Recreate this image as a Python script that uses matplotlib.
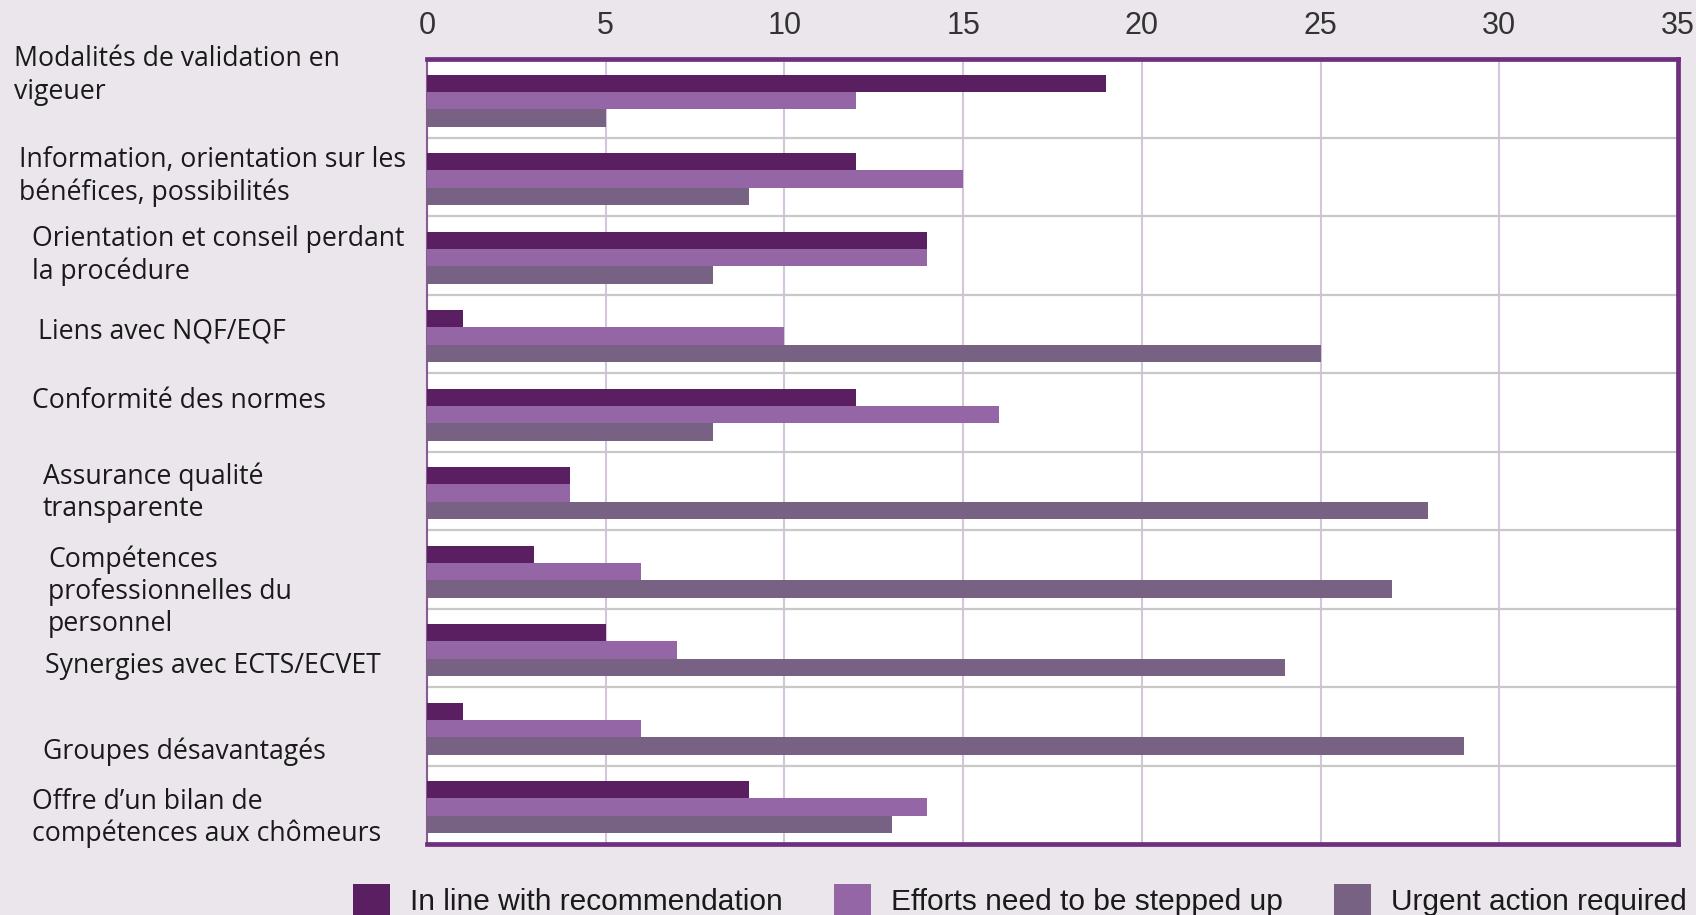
import matplotlib
matplotlib.use('Agg')

import numpy as np
import matplotlib.pyplot as plt
import matplotlib.transforms as mtransforms

# =========================
# Data
# =========================
categories = [
    "Modalités de validation en\nvigeuer",
    "Information, orientation sur les\nbénéfices, possibilités",
    "Orientation et conseil perdant\nla procédure",
    "Liens avec NQF/EQF",
    "Conformité des normes",
    "Assurance qualité\ntransparente",
    "Compétences\nprofessionnelles du\npersonnel",
    "Synergies avec ECTS/ECVET",
    "Groupes désavantagés",
    "Offre d\u2019un bilan de\ncompétences aux chômeurs",
]
in_line = [19, 12, 14, 1, 12, 4, 3, 5, 1, 9]
efforts = [12, 15, 14, 10, 16, 4, 6, 7, 6, 14]
urgent = [5, 9, 8, 25, 8, 28, 27, 24, 29, 13]
series_names = ["In line with recommendation", "Efforts need to be stepped up",
                "Urgent action required"]
x_ticks = [0, 5, 10, 15, 20, 25, 30, 35]

# label layout (pixel indent from left, vertical nudge in category units)
label_x_px = [14, 19, 32, 38, 32, 43, 48, 45, 43, 32]
label_dy = [-0.29, 0.0, 0.0, -0.03, -0.14, 0.03, 0.29, 0.23, 0.32, 0.17]

colors = ["#5a1f60", "#9566a5", "#776283"]
bg = "#ebe6ec"
border = "#6e2f7e"

# =========================
# Figure
# =========================
W, H = 1696, 915
fig = plt.figure(figsize=(W / 100, H / 100), dpi=100, facecolor=bg)
ax = fig.add_axes([427 / W, 1 - 844 / H, (1678 - 427) / W, (844 - 59) / H])
ax.set_facecolor("white")

y = np.arange(len(categories))
h = 0.22
shift = 0.03
for i, (vals, c) in enumerate(zip([in_line, efforts, urgent], colors)):
    ax.barh(y + shift + (i - 1) * h, vals, height=h, color=c,
            label=series_names[i], zorder=3)

ax.set_xlim(0, 35)
ax.set_ylim(len(categories) - 0.5, -0.5)
ax.set_xticks(x_ticks)
ax.xaxis.tick_top()
ax.tick_params(axis="x", length=0, pad=13, labelsize=22, labelcolor="#333333")
for t in ax.get_xticklabels():
    t.set_family("Liberation Sans")
ax.set_yticks([])

# grid: vertical light purple, horizontal grey at category boundaries
for xv in x_ticks[1:-1]:
    ax.axvline(xv, color="#d6c4dc", lw=1.5, zorder=1)
for k in range(1, len(categories)):
    ax.axhline(k - 0.5, color="#c8c8c8", lw=1.6, zorder=1)

for side in ["top", "right", "bottom"]:
    ax.spines[side].set_color(border)
    ax.spines[side].set_linewidth(3.4)
ax.spines["left"].set_color("#8a5a95")
ax.spines["left"].set_linewidth(1.5)

# category labels
trans = mtransforms.blended_transform_factory(fig.transFigure, ax.transData)
for k, lab in enumerate(categories):
    ax.text(label_x_px[k] / W, k + label_dy[k], lab, transform=trans,
            ha="left", va="center", fontsize=19.2, family="Open Sans",
            color="#1a1a1a", linespacing=1.2)

leg = fig.legend(loc="center", bbox_to_anchor=(1020 / W, 1 - 900 / H), ncol=3,
                 frameon=False, handlelength=1.22, handleheight=1.22,
                 handletextpad=0.68, columnspacing=1.72,
                 prop={"family": ["Liberation Sans Narrow", "Liberation Sans"],
                       "size": 21.5})
for t in leg.get_texts():
    t.set_color("#1a1a1a")

fig.savefig("out.png", dpi=100, facecolor=bg)
